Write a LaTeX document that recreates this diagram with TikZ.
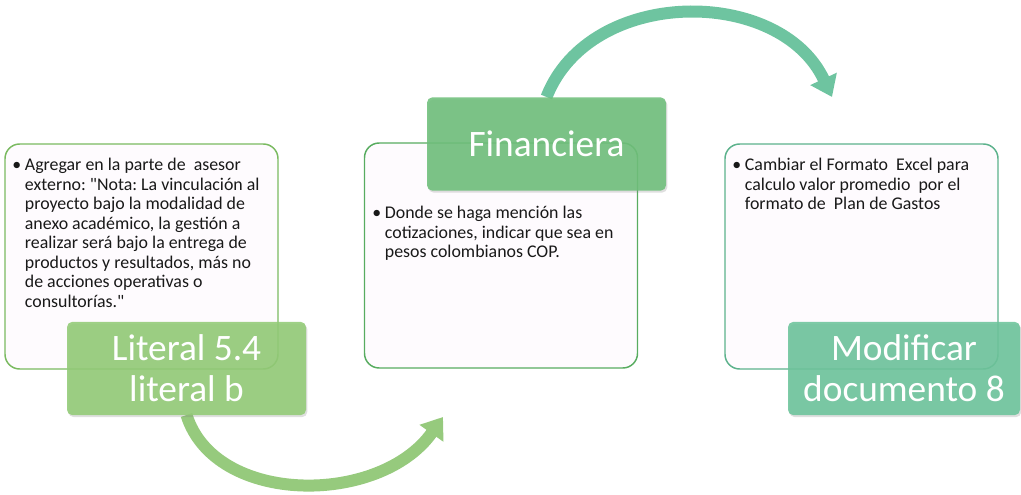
\documentclass[tikz,border=0pt]{standalone}
\usepackage{fontspec}
\setmainfont{Carlito}[Ligatures=TeXOff]
\usetikzlibrary{positioning, arrows.meta, shadows}

\definecolor{boxfill}{RGB}{254,251,254}
\definecolor{bodygray}{RGB}{25,25,25}
\definecolor{edgeA}{RGB}{122,186,96}
\definecolor{edgeB}{RGB}{88,172,96}
\definecolor{edgeC}{RGB}{92,178,140}
\definecolor{labA}{RGB}{146,203,118}
\definecolor{labB}{RGB}{110,191,122}
\definecolor{labC}{RGB}{108,196,155}
\definecolor{arrA}{RGB}{150,202,125}
\definecolor{arrB}{RGB}{110,196,160}

\newenvironment{bulletlines}{\begin{tabular}{@{}p{9.5pt}@{}l@{}}\textbullet &}{\end{tabular}}

\begin{document}
\begin{tikzpicture}[x=0.75pt, y=-0.75pt,
    textbox/.style={draw, line width=1.1pt, rounded corners=11pt, fill=boxfill,
        minimum width=204.75pt, minimum height=168.75pt},
    bodytext/.style={anchor=north west, inner sep=0pt,
        font=\fontsize{13.4}{14.6}\selectfont\frenchspacing, text=bodygray},
    labelbox/.style={rounded corners=4pt, fill opacity=0.88, text opacity=1, text=white,
        align=center, font=\fontsize{28}{30.75}\selectfont,
        minimum width=179.25pt, minimum height=70pt,
        drop shadow={opacity=0.25, shadow xshift=1pt, shadow yshift=-1.5pt}},
    bendarrow/.style={line width=9pt, -{Triangle[width=21pt, length=15pt]}}
  ]
    \useasboundingbox (0,0) rectangle (1021,495);

    \node[textbox, draw=edgeA] (b1) at (141.5,256.5) {};
    \node[textbox, draw=edgeB] (b2) at (501,255.5) {};
    \node[textbox, draw=edgeC] (b3) at (861.5,256.5) {};

    \node[bodytext] (t1) at (12,157) {\begin{bulletlines}
        Agregar en la parte de\ \ asesor\\
        & externo: "Nota: La vinculación al\\
        & proyecto bajo la modalidad de\\
        & anexo académico, la gestión a\\
        & realizar será bajo la entrega de\\
        & productos y resultados, más no\\
        & de acciones operativas o\\
        & consultorías."
      \end{bulletlines}};
    \node[bodytext] (t2) at (372,205) {\begin{bulletlines}
        Donde se haga mención las\\
        & cotizaciones, indicar que sea en\\
        & pesos colombianos COP.
      \end{bulletlines}};
    \node[bodytext] (t3) at (732,157) {\begin{bulletlines}
        Cambiar el Formato\ \ Excel para\\
        & calculo valor promedio\ \ por el\\
        & formato de\ \ Plan de Gastos
      \end{bulletlines}};

    \coordinate (e1) at (443,417);
    \coordinate (e2) at (832,97);

    \draw[bendarrow, arrA] (186.5,415) .. controls (215,506) and (380,506) .. (e1);
    \draw[bendarrow, arrB] (546.5,97) .. controls (590,-14) and (780,-14) .. (e2);

    \node[labelbox, fill=labA] (l1) at (186.5,368.5) {Literal 5.4\\literal b};
    \node[labelbox, fill=labB] (l2) at (546.5,144) {Financiera};
    \node[labelbox, fill=labC, minimum width=174pt] (l3) at (904,368.5) {Modificar\\documento 8};
\end{tikzpicture}
\end{document}
